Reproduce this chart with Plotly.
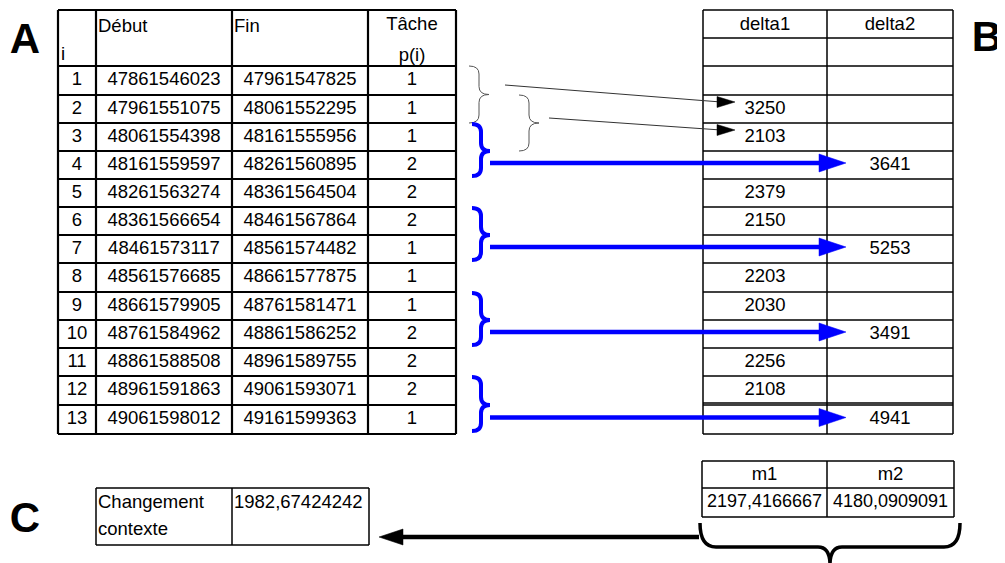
import plotly.graph_objects as go

# ---------------- data ----------------
idx = list(range(1, 14))
debut = [47861546023, 47961551075, 48061554398, 48161559597, 48261563274,
         48361566654, 48461573117, 48561576685, 48661579905, 48761584962,
         48861588508, 48961591863, 49061598012]
fin = [47961547825, 48061552295, 48161555956, 48261560895, 48361564504,
       48461567864, 48561574482, 48661577875, 48761581471, 48861586252,
       48961589755, 49061593071, 49161599363]
tache = [1, 1, 1, 2, 2, 2, 1, 1, 1, 2, 2, 2, 1]
delta1 = [None, 3250, 2103, None, 2379, 2150, None, 2203, 2030, None, 2256, 2108, None]
delta2 = [None, None, None, 3641, None, None, 5253, None, None, 3491, None, None, 4941]
headers_b = ["delta1", "delta2"]
headers_m = ["m1", "m2"]
m_values = ["2197,4166667", "4180,0909091"]
c_label = ["Changement", "contexte"]
c_value = "1982,67424242"
blue_groups = [(3, 4), (6, 7), (9, 10), (12, 13)]   # rows -> arrow to delta2
gray_groups = [(1, 2), (2, 3)]                         # rows -> arrow to delta1

# ---------------- layout constants (pixels) ----------------
OFF = 8                      # default page body margin
W, H = 1005, 563
FONT = "Liberation Sans, Arial, sans-serif"
xA = [58, 96, 232, 368, 456]
yA_top = 10
row_edges = [66, 95, 123, 151, 179, 207, 235, 263, 292, 320, 348, 376, 405, 434]
xB = [703, 827, 953]
yB = [10, 38, 66]
xM = [702, 827, 954]
yM = [461, 488, 517]
xC = [96, 232, 369]
yC = [488, 545]
PAD = 2


def rc(i):  # row centre, 1-based
    return (row_edges[i - 1] + row_edges[i]) / 2


shapes = []


def line(x0, y0, x1, y1, w=1.5, c="black"):
    shapes.append(dict(type="line", x0=x0, y0=y0, x1=x1, y1=y1, xref="x", yref="y",
                       line=dict(color=c, width=w)))


def tri(tipx, tipy, dx, half, c):
    bx = tipx - dx
    shapes.append(dict(type="path", xref="x", yref="y",
                       path=f"M {tipx},{tipy} L {bx},{tipy-half} L {bx},{tipy+half} Z",
                       fillcolor=c, line=dict(color=c, width=0.5)))


def brace_right(x0, y1, y2, ym, w, c, lw):
    xm = x0 + w / 2
    r = min(8, (y2 - y1) / 5)
    p = (f"M {x0},{y1} Q {xm},{y1} {xm},{y1+r} L {xm},{ym-r} Q {xm},{ym} {x0+w},{ym} "
         f"Q {xm},{ym} {xm},{ym+r} L {xm},{y2-r} Q {xm},{y2} {x0},{y2}")
    shapes.append(dict(type="path", xref="x", yref="y", path=p,
                       line=dict(color=c, width=lw)))


# Table A grid
for x in xA:
    line(x, yA_top, x, row_edges[-1], 2.2)
line(xA[0], yA_top, xA[-1], yA_top, 2.2)
for y in row_edges:
    line(xA[0], y, xA[-1], y, 2.2)

# Table B grid
for x in xB:
    line(x, yB[0], x, row_edges[-1], 1.5)
for y in yB + row_edges[1:]:
    line(xB[0], y, xB[-1], y, 1.5)
line(xB[0], row_edges[-2] - 2, xB[-1], row_edges[-2] - 2, 1.5)

# m table
for x in xM:
    line(x, yM[0], x, yM[-1], 1.5)
for y in yM:
    line(xM[0], y, xM[-1], y, 1.5)

# C table
for x in xC:
    line(x, yC[0], x, yC[-1], 1.5)
for y in yC:
    line(xC[0], y, xC[-1], y, 1.5)

# gray braces + thin arrows
gray_x = [469, 519]
gray_start = [(505, 85), (549, 118)]
for (a, b), gx, (sx, sy) in zip(gray_groups, gray_x, gray_start):
    y1, y2 = row_edges[a - 1], row_edges[b]
    ym = (y1 + y2) / 2
    brace_right(gx, y1, y2, ym, 20, "#555555", 1)
    ty = rc(b) - 7
    tipx = 735
    line(sx, sy, tipx - 14, ty, 1, "#333333")
    tri(tipx, ty, 18, 5.5, "black")

# blue braces + thick arrows
for a, b in blue_groups:
    y1, y2 = row_edges[a - 1], row_edges[b]
    ym = row_edges[a]
    brace_right(472, y1 + 1, y2 - 3, ym, 18, "#0000ff", 4)
    ay = rc(b) - 2
    line(490, ay, 822, ay, 4.5, "#0000ff")
    tri(846, ay, 27, 9, "#0000ff")

# bottom arrow to C
line(699, 537, 400, 537, 4.5, "black")
tri(379, 537, -24, 8, "black")

# bottom brace (opening up)
bx0, bx1, btop, bmid, btip = 700, 960, 523, 547, 563
bc = (bx0 + bx1) / 2
shapes.append(dict(type="path", xref="x", yref="y", line=dict(color="black", width=3.5),
                   path=(f"M {bx0},{btop} Q {bx0},{bmid} {bx0+16},{bmid} L {bc-12},{bmid} "
                         f"Q {bc},{bmid} {bc},{btip+2} Q {bc},{bmid} {bc+12},{bmid} "
                         f"L {bx1-16},{bmid} Q {bx1},{bmid} {bx1},{btop}")))

fig = go.Figure()


def txt(xs, ys, texts, pos="middle center", size=18.5, family=FONT):
    fig.add_trace(go.Scatter(x=xs, y=ys, mode="text", text=texts, textposition=pos,
                             textfont=dict(family=family, size=size, color="black"),
                             hoverinfo="skip", showlegend=False))


# Table A body
rows_y = [rc(i) for i in idx]
cx = [(xA[k] + xA[k + 1]) / 2 for k in range(4)]
for col_x, vals in zip(cx, [idx, debut, fin, tache]):
    txt([col_x] * len(vals), rows_y, [str(v) for v in vals])

# Table A header
txt([xA[1] + PAD, xA[2] + PAD, xA[0] + PAD + 1], [27, 27, 55], ["Début", "Fin", "i"],
    pos="middle right")
txt([cx[3], cx[3]], [25, 56], ["Tâche", "p(i)"])

# Table B
cB = [(xB[0] + xB[1]) / 2, (xB[1] + xB[2]) / 2]
txt(cB, [25, 25], headers_b)
for col_x, vals in zip(cB, [delta1, delta2]):
    ys = [rc(i) for i, v in zip(idx, vals) if v is not None]
    ts = [str(v) for v in vals if v is not None]
    txt([col_x] * len(ys), ys, ts)

# m table
cM = [(xM[0] + xM[1]) / 2, (xM[1] + xM[2]) / 2]
txt(cM, [475, 475], headers_m)
txt(cM, [502, 502], m_values, size=18)

# C table
txt([xC[0] + PAD, xC[0] + PAD, xC[1] + PAD], [503, 530, 503], c_label + [c_value],
    pos="middle right", size=18.5)

# section letters
txt([25, 987, 25], [42, 40, 521], ["<b>A</b>", "<b>B</b>", "<b>C</b>"], size=42)

fig.update_layout(
    width=W - OFF, height=H - OFF, autosize=False,
    margin=dict(l=0, r=0, t=0, b=0, pad=0),
    paper_bgcolor="white", plot_bgcolor="white",
    xaxis=dict(range=[OFF, W], visible=False, fixedrange=True),
    yaxis=dict(range=[H, OFF], visible=False, fixedrange=True),
    shapes=shapes, showlegend=False,
)
fig.write_html("out.html")
